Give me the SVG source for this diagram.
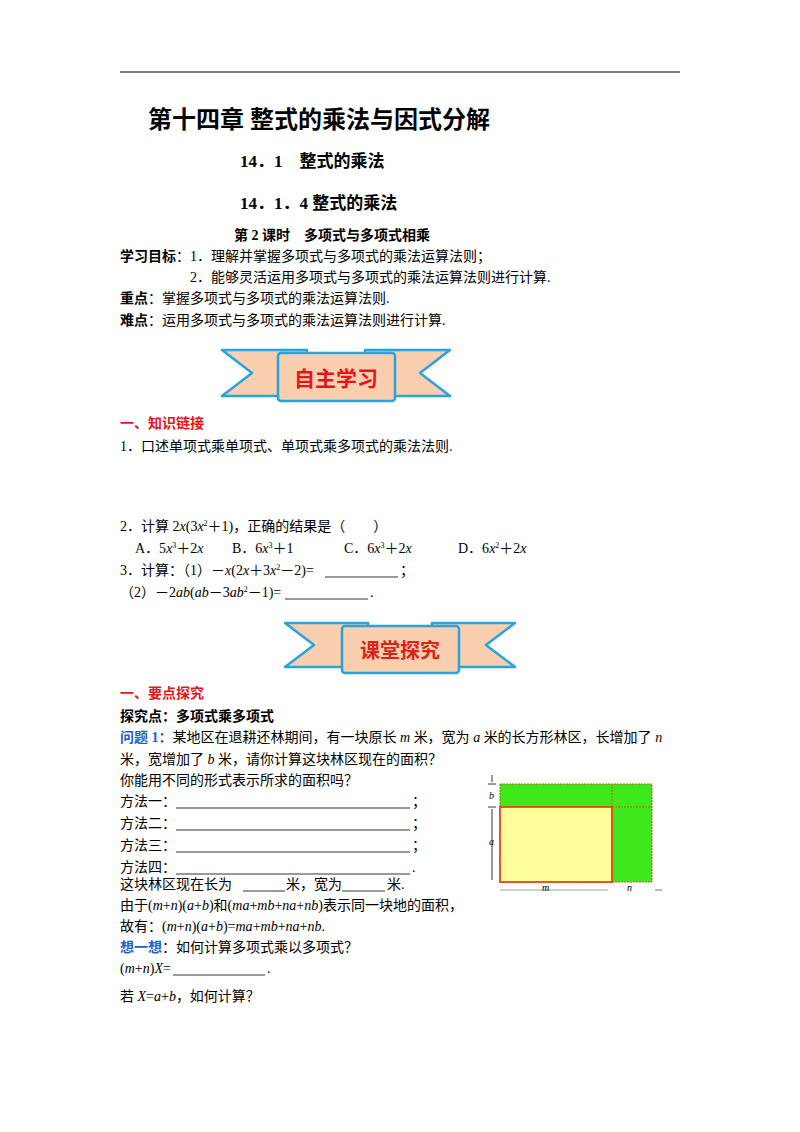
<svg xmlns="http://www.w3.org/2000/svg" width="800" height="1132" viewBox="0 0 800 1132">
<style>
text{font-family:"Liberation Serif","Noto Sans CJK SC",serif;font-size:14px;fill:#000}
.b{font-weight:bold}
.red{fill:#e5161b;font-weight:bold}
.blue{fill:#1f5fd1;font-weight:bold}
.i{font-style:italic}
.ban{fill:#f9cfb0;stroke:#29a3dd;stroke-width:2.5;stroke-linejoin:round}
.u{stroke:#000;stroke-width:0.8}
</style>
<rect width="800" height="1132" fill="#fff"/>
<line x1="120" y1="72" x2="680" y2="72" stroke="#000" stroke-width="1"/>
<g id="titles">
<text x="148" y="128" class="b" style="font-size:24px">第十四章 整式的乘法与因式分解</text>
<text x="240" y="167" class="b" style="font-size:17px">14．1　整式的乘法</text>
<text x="240" y="209" class="b" style="font-size:17px">14．1．4 整式的乘法</text>
<text x="234" y="240" class="b" style="font-size:14px">第 2 课时　多项式与多项式相乘</text>
</g>
<g id="goals">
<text x="120" y="261"><tspan class="b">学习目标</tspan>：1．理解并掌握多项式与多项式的乘法运算法则；</text>
<text x="190" y="282">2．能够灵活运用多项式与多项式的乘法运算法则进行计算.</text>
<text x="120" y="303"><tspan class="b">重点</tspan>：掌握多项式与多项式的乘法运算法则.</text>
<text x="120" y="325"><tspan class="b">难点</tspan>：运用多项式与多项式的乘法运算法则进行计算.</text>
</g>
<g id="banner1">
<polygon class="ban" points="222,350 307,350 307,396 222,396 252,373"/>
<polygon class="ban" points="450,350 365,350 365,396 450,396 420,373"/>
<rect class="ban" x="278" y="353" width="117" height="48" rx="3"/>
<text x="336" y="386" text-anchor="middle" style="font-size:21px;font-family:'Noto Sans CJK SC',sans-serif;font-weight:bold;fill:#e5161b">自主学习</text>
</g>
<g id="sec1">
<text x="120" y="428" class="red">一、知识链接</text>
<text x="120" y="451">1．口述单项式乘单项式、单项式乘多项式的乘法法则.</text>
<text x="120" y="531">2．计算 2<tspan class="i">x</tspan>(3<tspan class="i">x</tspan><tspan dy="-5" style="font-size:8px">2</tspan><tspan dy="5">＋1)，正确的结果是（　　）</tspan></text>
<text x="135" y="553">A．5<tspan class="i">x</tspan><tspan dy="-5" style="font-size:8px">3</tspan><tspan dy="5">＋2</tspan><tspan class="i">x</tspan></text>
<text x="232" y="553">B．6<tspan class="i">x</tspan><tspan dy="-5" style="font-size:8px">3</tspan><tspan dy="5">＋1</tspan></text>
<text x="344" y="553">C．6<tspan class="i">x</tspan><tspan dy="-5" style="font-size:8px">3</tspan><tspan dy="5">＋2</tspan><tspan class="i">x</tspan></text>
<text x="458" y="553">D．6<tspan class="i">x</tspan><tspan dy="-5" style="font-size:8px">2</tspan><tspan dy="5">＋2</tspan><tspan class="i">x</tspan></text>
<text x="120" y="575">3．计算：（1）－<tspan class="i">x</tspan>(2<tspan class="i">x</tspan>＋3<tspan class="i">x</tspan><tspan dy="-5" style="font-size:8px">2</tspan><tspan dy="5">－2)=</tspan></text>
<line class="u" x1="325" y1="577" x2="398" y2="577"/><text x="400" y="575">；</text>
<text x="120" y="597">（2）－2<tspan class="i">ab</tspan>(<tspan class="i">ab</tspan>－3<tspan class="i">ab</tspan><tspan dy="-5" style="font-size:8px">2</tspan><tspan dy="5">－1)=</tspan></text>
<line class="u" x1="285" y1="599" x2="368" y2="599"/><text x="370" y="597">.</text>
</g>
<g id="banner2">
<polygon class="ban" points="285,623 368,623 368,667 285,667 314,645"/>
<polygon class="ban" points="515,623 432,623 432,667 515,667 486,645"/>
<rect class="ban" x="342" y="626" width="117" height="47" rx="3"/>
<text x="400" y="658" text-anchor="middle" style="font-size:20px;font-family:'Noto Sans CJK SC',sans-serif;font-weight:bold;fill:#d9241b">课堂探究</text>
</g>
<g id="sec2">
<text x="120" y="698" class="red">一、要点探究</text>
<text x="120" y="721" class="b">探究点：多项式乘多项式</text>
<text x="120" y="742"><tspan class="blue">问题 1：</tspan>某地区在退耕还林期间，有一块原长 <tspan class="i">m</tspan> 米，宽为 <tspan class="i">a</tspan> 米的长方形林区，长增加了 <tspan class="i">n</tspan></text>
<text x="120" y="764">米，宽增加了 <tspan class="i">b</tspan> 米，请你计算这块林区现在的面积？</text>
<text x="120" y="785">你能用不同的形式表示所求的面积吗？</text>
<text x="120" y="806">方法一：</text><line class="u" x1="176" y1="808" x2="410" y2="808"/><text x="412" y="806">；</text>
<text x="120" y="828">方法二：</text><line class="u" x1="176" y1="830" x2="410" y2="830"/><text x="412" y="828">；</text>
<text x="120" y="850">方法三：</text><line class="u" x1="176" y1="852" x2="410" y2="852"/><text x="412" y="850">；</text>
<text x="120" y="872">方法四：</text><line class="u" x1="176" y1="874" x2="410" y2="874"/><text x="412" y="872">.</text>
<text x="120" y="889">这块林区现在长为</text><line class="u" x1="243" y1="891" x2="285" y2="891"/><text x="286" y="889">米，宽为</text><line class="u" x1="342" y1="891" x2="385" y2="891"/><text x="387" y="889">米.</text>
<text x="120" y="910">由于(<tspan class="i">m</tspan>+<tspan class="i">n</tspan>)(<tspan class="i">a</tspan>+<tspan class="i">b</tspan>)和(<tspan class="i">ma</tspan>+<tspan class="i">mb</tspan>+<tspan class="i">na</tspan>+<tspan class="i">nb</tspan>)表示同一块地的面积，</text>
<text x="120" y="931">故有：(<tspan class="i">m</tspan>+<tspan class="i">n</tspan>)(<tspan class="i">a</tspan>+<tspan class="i">b</tspan>)=<tspan class="i">ma</tspan>+<tspan class="i">mb</tspan>+<tspan class="i">na</tspan>+<tspan class="i">nb</tspan>.</text>
<text x="120" y="952"><tspan class="blue">想一想</tspan>：如何计算多项式乘以多项式？</text>
<text x="120" y="973">(<tspan class="i">m</tspan>+<tspan class="i">n</tspan>)<tspan class="i">X</tspan>=</text><line class="u" x1="173" y1="975" x2="265" y2="975"/><text x="267" y="973">.</text>
<text x="120" y="1001">若 <tspan class="i">X</tspan>=<tspan class="i">a</tspan>+<tspan class="i">b</tspan>，如何计算？</text>
</g>
<g id="figure">
<rect x="500" y="784" width="152" height="98" fill="#3fe81b" stroke="#b5651d" stroke-width="1" stroke-dasharray="2,1"/>
<line x1="612" y1="784" x2="612" y2="882" stroke="#b5651d" stroke-dasharray="2,1"/>
<line x1="612" y1="807" x2="652" y2="807" stroke="#b5651d" stroke-dasharray="2,1"/>
<rect x="500" y="807" width="112" height="75" fill="#fdfd9a" stroke="#e8451c" stroke-width="1.8"/>
<line x1="492" y1="775" x2="492" y2="782" stroke="#000" stroke-width="0.8"/>
<line x1="488" y1="784" x2="496" y2="784" stroke="#000" stroke-width="0.8"/>
<line x1="488" y1="807" x2="496" y2="807" stroke="#000" stroke-width="0.8"/>
<line x1="492" y1="809" x2="492" y2="880" stroke="#000" stroke-width="0.8"/>
<line x1="500" y1="890" x2="608" y2="890" stroke="#888" stroke-width="0.8"/>
<line x1="655" y1="890" x2="662" y2="890" stroke="#555" stroke-width="0.8"/>
<text x="489" y="799" class="i" style="font-size:10px">b</text>
<text x="489" y="845" class="i" style="font-size:10px">a</text>
<text x="542" y="891" class="i" style="font-size:10px">m</text>
<text x="627" y="891" class="i" style="font-size:10px">n</text>
</g>
</svg>
